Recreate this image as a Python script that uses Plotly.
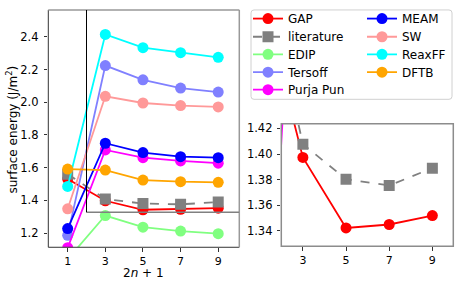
import plotly.graph_objects as go

W, H = 463, 285

x_vals = [1, 3, 5, 7, 9]
gap = [1.530, 1.3974, 1.3423, 1.345, 1.352]
literature = [1.56, 1.4077, 1.3804, 1.3755, 1.389]
edip = [1.04, 1.307, 1.236, 1.212, 1.196]
tersoff = [1.186, 2.224, 2.137, 2.086, 2.062]
purja_pun = [1.11, 1.708, 1.661, 1.641, 1.627]
meam = [1.227, 1.749, 1.692, 1.667, 1.661]
sw = [1.348, 2.036, 1.995, 1.979, 1.971]
reaxff = [1.485, 2.414, 2.333, 2.303, 2.274]
dftb = [1.591, 1.585, 1.524, 1.514, 1.510]

left_xticks = [1, 3, 5, 7, 9]
left_yticks = [1.2, 1.4, 1.6, 1.8, 2.0, 2.2, 2.4]
right_xticks = [3, 5, 7, 9]
right_yticks = [1.34, 1.36, 1.38, 1.40, 1.42]

series = [
    ("GAP", gap, "#ff0000", "circle", "solid"),
    ("literature", literature, "#808080", "square", "dash"),
    ("EDIP", edip, "#80ff80", "circle", "solid"),
    ("Tersoff", tersoff, "#8080ff", "circle", "solid"),
    ("Purja Pun", purja_pun, "#ff00ff", "circle", "solid"),
    ("MEAM", meam, "#0000ff", "circle", "solid"),
    ("SW", sw, "#ff9999", "circle", "solid"),
    ("ReaxFF", reaxff, "#00ffff", "circle", "solid"),
    ("DFTB", dftb, "#ffa500", "circle", "solid"),
]

FONT = "DejaVu Sans"
TICK = 11.5
LBL = 12


def px(x):
    return x / W


def py(y):
    return 1 - y / H


# legend slot positions (pixel) : column x, row centre y
leg_cols = [248, 362]
leg_rows = [16.7, 35, 52.7, 70.7, 88.3]

fig = go.Figure()
legend_layouts = {}
for i, (name, vals, col, sym, dash) in enumerate(series):
    key = "legend" if i == 0 else f"legend{i + 1}"
    c = 0 if i < 5 else 1
    r = i if i < 5 else i - 5
    legend_layouts[key] = dict(
        x=px(leg_cols[c]), y=py(leg_rows[r]), xanchor="left", yanchor="middle",
        bgcolor="rgba(0,0,0,0)", borderwidth=0,
        font=dict(family=FONT, size=LBL, color="#000000"))
    fig.add_trace(go.Scatter(
        x=x_vals, y=vals, name=name, mode="lines+markers",
        line=dict(color=col, width=1.8, dash=dash),
        marker=dict(color=col, size=11, symbol=sym),
        xaxis="x", yaxis="y", legend=key, showlegend=True))
for name, vals, col, sym, dash in series:
    fig.add_trace(go.Scatter(
        x=x_vals, y=vals, name=name, mode="lines+markers",
        line=dict(color=col, width=1.8, dash=dash),
        marker=dict(color=col, size=11, symbol=sym),
        xaxis="x2", yaxis="y2", showlegend=False))

axis_common = dict(showgrid=False, zeroline=False, showline=False,
                   ticks="outside", ticklen=3.5, tickwidth=1, tickcolor="#333333")
yfont = dict(tickfont=dict(family=FONT, size=TICK, color="#000000"))
xfont = dict(tickfont=dict(family=FONT, size=11, color="#000000"))

fig.update_layout(
    width=W, height=H,
    margin=dict(l=0, r=0, t=0, b=0),
    paper_bgcolor="white", plot_bgcolor="white",
    font=dict(family=FONT, size=LBL, color="#000000"),
    xaxis=dict(domain=[px(48.3), px(239.3)], range=[-0.03, 10.12],
               tickvals=left_xticks, ticktext=[str(v) for v in left_xticks],
               anchor="y", **axis_common, **xfont),
    yaxis=dict(domain=[py(247), py(8)], range=[1.113, 2.564],
               tickvals=left_yticks, ticktext=["%.1f" % v for v in left_yticks],
               anchor="x", ticklabelstandoff=3, **axis_common, **yfont),
    xaxis2=dict(domain=[px(281.3), px(453.3)], range=[2.0, 9.97],
                tickvals=right_xticks, ticktext=[str(v) for v in right_xticks],
                anchor="y2", **axis_common, **xfont),
    yaxis2=dict(domain=[py(246), py(122.7)], range=[1.328, 1.4236],
                tickvals=right_yticks, ticktext=["%.2f" % v for v in right_yticks],
                anchor="x2", ticklabelstandoff=2, **axis_common, **yfont),
    **legend_layouts,
)

annotations = [
    dict(text="2<i>n</i> + 1", xref="paper", yref="paper", x=px(143.8), y=py(272.5),
         xanchor="center", yanchor="middle", showarrow=False,
         font=dict(family=FONT, size=LBL, color="#000000")),
    dict(text="surface energy (J/m<sup>2</sup>)", xref="paper", yref="paper",
         x=px(12), y=py(128.5), xanchor="center", yanchor="middle", textangle=-90,
         showarrow=False, font=dict(family=FONT, size=LBL, color="#000000")),
]

shapes = []
# left frame: left & bottom dark, top & right gray
shapes.append(dict(type="line", xref="x domain", yref="y domain", x0=0, x1=0, y0=0, y1=1,
                   line=dict(color="#333333", width=1)))
shapes.append(dict(type="line", xref="x domain", yref="y domain", x0=0, x1=1, y0=0, y1=0,
                   line=dict(color="#333333", width=1)))
shapes.append(dict(type="line", xref="x domain", yref="y domain", x0=0, x1=1, y0=1, y1=1,
                   line=dict(color="#999999", width=1.5)))
shapes.append(dict(type="line", xref="x domain", yref="y domain", x0=1, x1=1, y0=0, y1=1,
                   line=dict(color="#999999", width=1.5)))
# inset indicator
shapes.append(dict(type="line", xref="x", yref="y", x0=2, x1=10.12, y0=1.327, y1=1.327,
                   line=dict(color="#808080", width=1.5)))
shapes.append(dict(type="line", xref="x", yref="y", x0=2, x1=2, y0=1.327, y1=2.564,
                   line=dict(color="#000000", width=1)))
# right frame gray
shapes.append(dict(type="rect", xref="x2 domain", yref="y2 domain", x0=0, x1=1, y0=0, y1=1,
                   line=dict(color="#8c8c8c", width=1.5)))
# legend box (rounded)
x0, x1, y0, y1 = px(251), px(452), py(98), py(8)
rx, ry = 3 / W, 3 / H
path = (f"M {x0+rx},{y1} L {x1-rx},{y1} Q {x1},{y1} {x1},{y1-ry} "
        f"L {x1},{y0+ry} Q {x1},{y0} {x1-rx},{y0} L {x0+rx},{y0} "
        f"Q {x0},{y0} {x0},{y0+ry} L {x0},{y1-ry} Q {x0},{y1} {x0+rx},{y1} Z")
shapes.append(dict(type="path", xref="paper", yref="paper", path=path,
                   line=dict(color="#d0d0d0", width=1), fillcolor="rgba(255,255,255,0.8)",
                   layer="below"))
fig.update_layout(shapes=shapes, annotations=annotations)

fig.write_html("out.html", config={"displayModeBar": False},
               post_script="document.body.style.margin='0px';document.body.style.overflow='hidden';")
